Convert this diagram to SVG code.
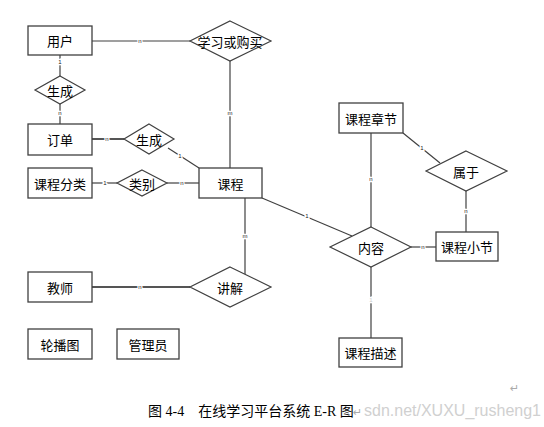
<svg xmlns="http://www.w3.org/2000/svg" width="544" height="427" viewBox="0 0 544 427">
<style>
.box{fill:#fff;stroke:#404040;stroke-width:1.3}
.dia{fill:#fff;stroke:#404040;stroke-width:1.2}
.t{font-family:"Noto Sans CJK SC","Noto Sans",sans-serif;font-size:13px;fill:#000;text-anchor:middle;dominant-baseline:central}
.ln{stroke:#404040;stroke-width:1.2;fill:none}
.thick{stroke:#555;stroke-width:2}
.lb{font-family:"Liberation Sans",sans-serif;font-size:6px;fill:#222;text-anchor:middle;dominant-baseline:central;paint-order:stroke;stroke:#fff;stroke-width:2.5}
.cap{font-family:"Liberation Serif","Noto Sans CJK SC",serif;font-size:14px;fill:#000}
.wm{font-family:"Liberation Sans",sans-serif;font-size:16px;fill:#d0d0d0}
.ret{font-family:"DejaVu Sans",sans-serif;font-size:11px;fill:#aaa}
</style>
<rect width="544" height="427" fill="#fff"/>
<g id="connectors">
<line class="ln" x1="92" y1="41" x2="190" y2="41"/>
<line class="ln" x1="230" y1="61" x2="230" y2="168"/>
<line class="ln" x1="60" y1="55" x2="60" y2="76"/>
<line class="ln" x1="60" y1="104" x2="60" y2="124"/>
<line class="ln thick" x1="92" y1="139" x2="124" y2="139"/>
<line class="ln" x1="168" y1="148" x2="199" y2="168"/>
<line class="ln" x1="92" y1="183" x2="117" y2="183"/>
<line class="ln" x1="167" y1="183" x2="199" y2="183"/>
<line class="ln" x1="403" y1="133" x2="440" y2="163"/>
<line class="ln" x1="466" y1="191" x2="466" y2="232"/>
<line class="ln" x1="371" y1="133" x2="371" y2="227"/>
<line class="ln" x1="411" y1="247" x2="436" y2="247"/>
<line class="ln" x1="262" y1="198" x2="352" y2="236"/>
<line class="ln" x1="245" y1="198" x2="245" y2="274"/>
<line class="ln thick" x1="92" y1="287" x2="190" y2="287"/>
<line class="ln" x1="371" y1="267" x2="371" y2="338"/>
<text class="lb" x="140" y="41">n</text>
<text class="lb" x="60" y="62">1</text>
<text class="lb" x="60" y="113">n</text>
<text class="lb" x="107" y="139">n</text>
<text class="lb" x="180" y="156">1</text>
<text class="lb" x="105" y="183">1</text>
<text class="lb" x="182" y="183">n</text>
<text class="lb" x="230" y="113">m</text>
<text class="lb" x="422" y="148">1</text>
<text class="lb" x="466" y="211">n</text>
<text class="lb" x="371" y="179">n</text>
<text class="lb" x="423" y="247">n</text>
<text class="lb" x="307" y="216">1</text>
<text class="lb" x="245" y="236">m</text>
<text class="lb" x="140" y="287">n</text>
<text class="lb" x="371" y="300" style="fill:#ccc">1</text>
</g>
<g id="user"><rect class="box" x="28" y="26" width="64" height="29"/><text class="t" x="60" y="40.5">用户</text></g>
<g id="study-buy"><polygon class="dia" points="230,21 271,41 230,61 190,41"/><text class="t" x="230" y="41">学习或购买</text></g>
<g id="gen1"><polygon class="dia" points="60,76 85,90 60,104 35,90"/><text class="t" x="60" y="90">生成</text></g>
<g id="order"><rect class="box" x="28" y="124" width="64" height="31"/><text class="t" x="60" y="139.5">订单</text></g>
<g id="gen2"><polygon class="dia" points="149,124 174,139 149,154 124,139"/><text class="t" x="149" y="139">生成</text></g>
<g id="category"><rect class="box" x="28" y="168" width="64" height="30"/><text class="t" x="60" y="183">课程分类</text></g>
<g id="kind"><polygon class="dia" points="142,170 167,183 142,196 117,183"/><text class="t" x="142" y="183">类别</text></g>
<g id="course"><rect class="box" x="199" y="168" width="63" height="30"/><text class="t" x="230.5" y="183">课程</text></g>
<g id="chapter"><rect class="box" x="339" y="103" width="64" height="30"/><text class="t" x="371" y="118">课程章节</text></g>
<g id="belong"><polygon class="dia" points="466,151 507,171 466,191 426,171"/><text class="t" x="466" y="171">属于</text></g>
<g id="section"><rect class="box" x="436" y="232" width="62" height="29"/><text class="t" x="467" y="246.5">课程小节</text></g>
<g id="content"><polygon class="dia" points="371,227 411,247 371,267 330,247"/><text class="t" x="371" y="247">内容</text></g>
<g id="teacher"><rect class="box" x="28" y="272" width="64" height="30"/><text class="t" x="60" y="287">教师</text></g>
<g id="lecture"><polygon class="dia" points="230,267 271,287 230,307 190,287"/><text class="t" x="230" y="287">讲解</text></g>
<g id="carousel"><rect class="box" x="28" y="329" width="64" height="30"/><text class="t" x="60" y="344">轮播图</text></g>
<g id="admin"><rect class="box" x="117" y="329" width="62" height="30"/><text class="t" x="148" y="344">管理员</text></g>
<g id="desc"><rect class="box" x="339" y="338" width="63" height="29"/><text class="t" x="370.5" y="352.5">课程描述</text></g>
<text class="cap" x="148" y="416">图 4-4　在线学习平台系统 E-R 图</text>
<text class="ret" x="353" y="416">↵</text>
<text class="wm" x="364" y="416">sdn.net/XUXU_rusheng1</text>
<text class="ret" x="510" y="392">↵</text>
</svg>
